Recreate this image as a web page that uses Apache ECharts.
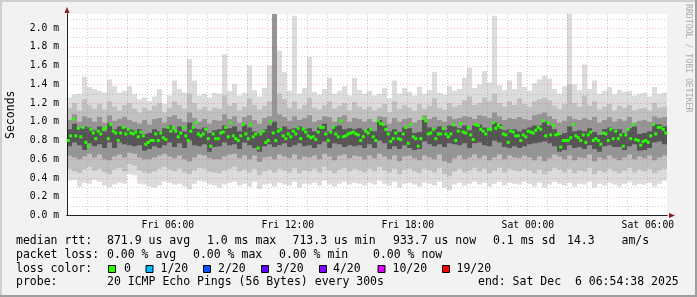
<!DOCTYPE html>
<html><head><meta charset="utf-8">
<script src="https://cdn.jsdelivr.net/npm/echarts@6/dist/echarts.min.js"></script>
<style>
html,body{margin:0;padding:0;background:#f2f2f2;}
#wrap{position:relative;width:697px;height:297px;overflow:hidden;background:#f2f2f2;}
#chart{position:absolute;left:0;top:0;width:697px;height:297px;}
.sh{position:absolute;}
</style></head><body>
<div id="wrap">
<div id="chart"></div>
<div class="sh" style="left:0;top:0;width:697px;height:2px;background:#cfcfcf"></div>
<div class="sh" style="left:0;top:0;width:2px;height:297px;background:#cfcfcf"></div>
<div class="sh" style="left:0;top:295px;width:697px;height:2px;background:#9e9e9e"></div>
<div class="sh" style="left:695px;top:0;width:2px;height:297px;background:#9e9e9e"></div>
</div>
<script>
// ---- time axis (hours since Fri 00:00) ----
const START_HOUR = 0.96;
const SPAN_HOURS = 30;
const SMOKE_STEP = 0.25;   // 15-minute buckets
const MEDIAN_STEP = 0.125; // 7.5-minute buckets

const xTickHours = [6, 12, 18, 24, 30];
const xTickLabels = ['Fri 06:00', 'Fri 12:00', 'Fri 18:00', 'Sat 00:00', 'Sat 06:00'];
const yTickValues = [0, 0.2, 0.4, 0.6, 0.8, 1.0, 1.2, 1.4, 1.6, 1.8, 2.0];

// ---- smoke envelope (ms) ----
const maxV = [
1.26,1.29,1.30,1.48,1.37,1.35,1.33,1.31,1.45,1.38,1.31,1.33,1.38,1.29,1.24,1.26,1.22,1.27,1.35,1.19,1.28,1.44,1.35,1.31,1.67,1.44,1.28,1.30,1.26,1.31,
1.30,1.72,1.33,1.40,1.28,1.31,1.60,1.34,1.27,1.36,1.60,2.15,1.76,1.53,1.33,2.13,1.30,1.36,1.69,1.32,1.29,1.35,1.47,1.30,1.33,1.38,1.28,1.47,1.34,1.30,
1.33,1.28,1.30,1.36,1.25,1.44,1.30,1.36,1.32,1.28,1.37,1.30,1.34,1.53,1.31,1.29,1.38,1.33,1.35,1.47,1.58,1.36,1.40,1.54,1.42,2.13,1.39,1.34,1.44,1.35,
1.53,1.37,1.33,1.41,1.45,1.49,1.46,1.35,1.30,1.38,2.15,1.40,1.34,1.61,1.35,1.44,1.30,1.33,1.37,1.29,1.34,1.32,1.33,1.28,1.30,1.31,1.27,1.37,1.30,1.31];
const minV = [
0.37,0.38,0.31,0.35,0.34,0.38,0.36,0.32,0.30,0.33,0.35,0.34,0.44,0.43,0.34,0.33,0.31,0.30,0.32,0.36,0.35,0.33,0.34,0.31,0.28,0.34,0.37,0.36,0.33,0.32,
0.30,0.33,0.35,0.36,0.32,0.34,0.31,0.36,0.28,0.33,0.34,0.31,0.35,0.33,0.32,0.36,0.30,0.34,0.33,0.35,0.32,0.37,0.33,0.31,0.34,0.36,0.33,0.35,0.34,0.32,
0.35,0.33,0.37,0.34,0.32,0.36,0.30,0.34,0.35,0.33,0.31,0.35,0.34,0.32,0.36,0.30,0.27,0.33,0.35,0.32,0.34,0.36,0.33,0.35,0.31,0.34,0.36,0.32,0.35,0.34,
0.33,0.36,0.34,0.31,0.35,0.30,0.33,0.36,0.34,0.32,0.35,0.31,0.34,0.33,0.36,0.30,0.34,0.32,0.35,0.33,0.31,0.34,0.36,0.32,0.34,0.33,0.35,0.31,0.34,0.37];
const p90 = [
1.15,1.20,1.12,1.24,1.18,1.14,1.19,1.13,1.22,1.16,1.12,1.18,1.20,1.14,1.10,1.15,1.12,1.17,1.20,1.10,1.15,1.22,1.18,1.14,1.30,1.20,1.13,1.16,1.12,1.15,
1.14,1.28,1.17,1.20,1.12,1.16,1.25,1.18,1.13,1.17,1.22,2.15,1.30,1.24,1.15,1.22,1.14,1.18,1.26,1.15,1.13,1.18,1.22,1.14,1.17,1.20,1.12,1.21,1.16,1.13,
1.16,1.12,1.15,1.19,1.10,1.22,1.14,1.18,1.15,1.12,1.19,1.14,1.17,1.25,1.15,1.13,1.20,1.16,1.18,1.23,1.27,1.18,1.20,1.26,1.22,1.30,1.20,1.16,1.22,1.18,
1.25,1.19,1.16,1.22,1.24,1.26,1.23,1.17,1.14,1.19,1.40,1.20,1.16,1.28,1.17,1.22,1.13,1.16,1.19,1.12,1.17,1.15,1.18,1.12,1.14,1.15,1.12,1.20,1.15,1.16];
const p10 = [
0.50,0.47,0.45,0.49,0.52,0.48,0.50,0.46,0.44,0.49,0.51,0.47,0.55,0.53,0.48,0.46,0.45,0.47,0.50,0.52,0.49,0.47,0.50,0.46,0.44,0.48,0.51,0.50,0.47,0.46,
0.45,0.48,0.50,0.52,0.47,0.49,0.46,0.50,0.43,0.47,0.49,0.46,0.50,0.48,0.46,0.51,0.45,0.48,0.47,0.50,0.46,0.52,0.48,0.45,0.49,0.51,0.47,0.50,0.48,0.46,
0.50,0.47,0.52,0.48,0.46,0.50,0.44,0.49,0.50,0.47,0.45,0.50,0.48,0.46,0.51,0.44,0.42,0.47,0.50,0.46,0.48,0.51,0.47,0.50,0.45,0.48,0.51,0.46,0.50,0.48,
0.47,0.50,0.48,0.45,0.49,0.44,0.47,0.51,0.49,0.46,0.50,0.45,0.48,0.47,0.51,0.44,0.48,0.46,0.50,0.47,0.45,0.48,0.51,0.46,0.49,0.47,0.50,0.45,0.48,0.50];
const p75 = [
1.02,1.08,1.00,1.06,1.04,1.00,1.05,0.99,1.07,1.01,1.03,1.05,1.02,1.00,0.98,1.02,0.97,1.03,1.04,0.99,1.05,1.07,1.03,1.00,1.10,1.04,1.00,1.03,0.98,1.02,
1.01,1.08,1.03,1.06,0.99,1.05,1.07,1.02,0.98,1.04,1.06,2.15,1.08,1.05,1.01,1.06,1.02,1.04,1.07,1.00,1.02,1.06,1.05,1.00,1.05,1.07,1.00,1.04,1.03,1.00,
1.03,1.00,1.06,1.05,0.98,1.04,1.00,1.03,1.04,0.99,1.02,1.07,1.03,1.05,1.02,1.00,1.06,1.03,1.04,1.06,1.05,1.03,1.07,1.06,1.04,1.10,1.06,1.02,1.04,1.03,
1.05,1.03,1.02,1.07,1.08,1.10,1.06,1.03,0.99,1.01,1.06,1.03,1.02,1.04,1.02,1.05,0.99,1.02,1.05,1.00,1.03,1.01,1.05,0.99,1.01,1.02,1.00,1.06,1.04,1.05];
const p25 = [
0.64,0.62,0.60,0.63,0.66,0.62,0.65,0.60,0.59,0.63,0.65,0.62,0.67,0.66,0.62,0.60,0.60,0.62,0.64,0.66,0.63,0.61,0.64,0.60,0.58,0.62,0.65,0.64,0.61,0.60,
0.60,0.63,0.65,0.66,0.61,0.64,0.60,0.64,0.57,0.62,0.63,0.60,0.65,0.63,0.61,0.65,0.60,0.63,0.62,0.64,0.60,0.66,0.63,0.59,0.64,0.65,0.61,0.64,0.63,0.60,
0.64,0.61,0.66,0.63,0.60,0.64,0.58,0.63,0.64,0.61,0.59,0.64,0.62,0.60,0.65,0.58,0.56,0.61,0.64,0.60,0.62,0.65,0.61,0.64,0.59,0.62,0.65,0.60,0.64,0.62,
0.61,0.64,0.62,0.59,0.63,0.58,0.61,0.65,0.63,0.60,0.64,0.59,0.62,0.61,0.65,0.58,0.62,0.60,0.64,0.61,0.59,0.62,0.65,0.60,0.63,0.61,0.64,0.59,0.62,0.64];
const p60 = [
0.92,0.98,0.93,0.95,0.94,0.91,0.95,0.90,0.98,0.92,0.95,0.93,0.92,0.91,0.92,0.87,0.88,0.92,0.90,0.93,0.96,0.91,0.95,0.90,0.99,0.93,0.92,0.94,0.88,0.91,
0.92,0.96,0.93,0.95,0.90,0.97,0.94,0.90,0.88,0.92,0.96,1.00,0.93,0.95,0.92,0.93,0.95,0.92,0.93,0.90,0.94,0.98,0.90,0.95,0.96,0.92,0.93,0.92,0.93,0.91,
0.93,0.90,1.02,0.96,0.90,0.92,0.89,0.94,0.93,0.88,0.89,1.02,0.94,0.92,0.95,0.91,0.96,0.95,0.93,0.96,0.91,0.96,0.97,0.94,0.93,0.99,0.97,0.91,0.92,0.92,
0.90,0.92,0.94,0.96,0.96,1.00,0.96,0.92,0.86,0.88,0.95,0.90,0.91,0.90,0.93,0.89,0.86,0.92,0.94,0.92,0.92,0.88,0.93,0.95,0.87,0.88,0.90,0.97,0.97,0.95];
const p40 = [
0.74,0.78,0.75,0.70,0.77,0.74,0.76,0.72,0.78,0.72,0.78,0.76,0.75,0.74,0.75,0.69,0.71,0.74,0.72,0.75,0.78,0.73,0.77,0.72,0.80,0.75,0.74,0.76,0.68,0.73,
0.74,0.78,0.75,0.76,0.71,0.78,0.75,0.72,0.68,0.74,0.76,0.73,0.75,0.77,0.73,0.75,0.77,0.74,0.75,0.72,0.76,0.79,0.72,0.77,0.76,0.73,0.75,0.74,0.75,0.72,
0.76,0.72,0.80,0.77,0.71,0.74,0.71,0.75,0.72,0.70,0.71,0.79,0.76,0.74,0.76,0.73,0.77,0.76,0.75,0.77,0.72,0.77,0.78,0.75,0.74,0.80,0.78,0.73,0.72,0.74,
0.72,0.74,0.76,0.77,0.78,0.79,0.77,0.74,0.68,0.70,0.75,0.72,0.73,0.71,0.75,0.71,0.68,0.74,0.75,0.73,0.73,0.70,0.74,0.76,0.69,0.70,0.72,0.78,0.79,0.76];

// ---- median rtt (ms) ----
const medianMs = [
0.80,0.85,1.03,0.85,0.93,0.84,0.94,0.78,0.74,0.92,0.88,0.82,0.90,0.87,0.92,0.94,0.82,0.97,0.90,0.88,0.80,0.88,0.94,0.87,0.92,0.88,0.87,0.89,0.84,0.89,
0.85,0.76,0.78,0.80,0.80,0.87,0.80,0.88,0.83,0.81,0.94,0.90,0.94,0.90,0.84,0.88,0.94,0.85,0.80,0.90,0.94,0.99,0.87,0.85,0.87,0.92,0.82,0.74,0.87,0.82,
0.82,0.88,0.89,0.94,0.84,0.99,0.85,0.82,0.80,0.85,0.97,0.87,0.82,0.97,0.84,0.87,0.72,0.87,0.90,0.78,0.80,1.00,0.88,0.80,0.90,0.92,0.85,0.82,0.87,0.84,
0.90,0.87,0.93,0.82,0.92,0.89,0.85,0.83,0.84,0.81,0.89,0.94,0.94,0.87,0.80,0.89,0.94,0.87,0.84,1.01,0.84,0.85,0.87,0.88,0.89,0.87,0.86,0.80,0.84,0.90,
0.88,0.92,0.84,0.80,1.01,0.98,0.97,0.92,0.87,0.79,0.82,0.88,0.82,0.81,0.87,0.94,0.77,0.97,0.84,0.82,0.74,0.82,1.04,1.01,0.87,0.88,0.92,0.82,0.87,0.87,
0.93,0.87,0.84,0.87,0.97,0.80,0.90,0.98,0.89,0.88,0.94,0.86,0.81,0.97,0.96,0.92,0.90,0.87,0.92,0.92,0.99,0.93,0.96,0.94,0.87,0.86,0.78,0.90,0.89,0.85,
0.85,0.80,0.86,0.84,0.90,0.89,0.88,0.91,0.94,0.92,1.01,0.85,0.99,0.86,0.96,0.86,0.87,0.73,0.80,0.80,0.80,0.83,0.97,0.85,0.83,0.80,0.86,0.78,0.86,0.89,
0.80,0.82,0.80,0.76,0.88,0.87,0.80,0.92,0.82,0.90,0.82,0.86,0.74,0.86,0.92,0.82,0.97,0.81,0.80,0.75,0.79,0.80,0.78,0.85,0.97,0.87,0.94,0.94,0.92,0.88];

// ---- legend ----
const lossColors = ['#26ff00', '#00b8ff', '#0059ff', '#5e00ff', '#7e00ff', '#dd00ff', '#ff0000'];
const lossLabels = ['0', '1/20', '2/20', '3/20', '4/20', '10/20', '19/20'];

const MONO = '"DejaVu Sans Mono", monospace';
const LEG_FONT = '11.5px ' + MONO;

function smokeSeries(name, lo, hi, color, z) {
  return {
    name, type: 'custom', z, silent: true, clip: true,
    xAxisIndex: 0, yAxisIndex: 0,
    encode: { x: 0, y: [1, 2] },
    data: lo.map((v, i) => [START_HOUR + (i + 0.5) * SMOKE_STEP, v, hi[i]]),
    renderItem: (params, api) => {
      const t = api.value(0);
      const a = api.coord([t, api.value(2)]);
      const b = api.coord([t, api.value(1)]);
      const w = api.size([SMOKE_STEP, 0])[0];
      return { type: 'rect', shape: { x: a[0] - w / 2, y: a[1], width: w, height: b[1] - a[1] },
               style: { fill: color } };
    }
  };
}

const vGrid = [];
for (let h = Math.ceil(START_HOUR + 0.1); h < START_HOUR + SPAN_HOURS; h++) vGrid.push([h, h % 3 === 0 ? 1 : 0]);
const hGrid = [];
for (let k = 1; k <= 21; k++) hGrid.push([k / 10, k % 2 === 0 ? 1 : 0]);
const MINOR = 'rgba(143,143,143,0.45)';
const MAJOR = 'rgba(222,79,79,0.38)';

const graphic = [];
function txt(x, y, s) {
  graphic.push({ type: 'text', x, y, silent: true,
    style: { text: s, font: LEG_FONT, fill: '#000', align: 'left', verticalAlign: 'middle' } });
}
txt(16, 241, 'median rtt:'); txt(107, 241, '871.9 us avg'); txt(207, 241, '1.0 ms max');
txt(292.5, 241, '713.3 us min'); txt(393, 241, '933.7 us now'); txt(493, 241, '0.1 ms sd');
txt(567, 241, '14.3'); txt(621.5, 241, 'am/s');
txt(16, 255, 'packet loss:'); txt(107, 255, '0.00 % avg'); txt(193, 255, '0.00 % max');
txt(279, 255, '0.00 % min'); txt(373, 255, '0.00 % now');
txt(16, 269, 'loss color:');
const boxX = [108, 145.5, 203, 261, 319, 377.5, 442];
const labX = [124, 160.5, 218, 276, 333, 392.5, 456.5];
lossColors.forEach((c, i) => {
  graphic.push({ type: 'rect', silent: true, shape: { x: boxX[i] + 0.5, y: 265.5, width: 7, height: 7 },
    style: { fill: c, stroke: '#000', lineWidth: 1 } });
  txt(labX[i], 269, lossLabels[i]);
});
txt(16, 282.5, 'probe:'); txt(107, 282.5, '20 ICMP Echo Pings (56 Bytes) every 300s');
txt(478, 282.5, 'end: Sat Dec  6 06:54:38 2025');
graphic.push({ type: 'text', x: 688, y: 4, rotation: -Math.PI / 2, silent: true,
  style: { text: 'RRDTOOL / TOBI OETIKER', font: '8.2px ' + MONO, fill: '#ababab', align: 'left', verticalAlign: 'middle' } });

const chart = echarts.init(document.getElementById('chart'), null, { renderer: 'canvas' });
chart.setOption({
  animation: false,
  backgroundColor: 'transparent',
  grid: { left: 67, top: 14, width: 600, height: 201.5, show: true, backgroundColor: '#ffffff', borderWidth: 0,
          containLabel: false, outerBoundsMode: 'none' },
  xAxis: [
    { type: 'value', position: 'bottom', min: START_HOUR, max: START_HOUR + SPAN_HOURS, z: 3,
      axisLine: { show: true, onZero: false, lineStyle: { color: '#1f1f1f', width: 1 } },
      axisTick: { show: false }, splitLine: { show: false },
      axisLabel: { customValues: xTickHours, margin: 5, color: '#000', fontFamily: MONO, fontSize: 9.7,
        formatter: v => { const i = xTickHours.indexOf(Math.round(v)); return i >= 0 ? xTickLabels[i] : ''; } } },
    { type: 'value', position: 'bottom', min: START_HOUR, max: START_HOUR + SPAN_HOURS, z: 1,
      axisLine: { show: true, onZero: false, symbol: ['none', 'triangle'], symbolSize: [5, 6], symbolOffset: [0, 5], lineStyle: { color: '#801f1f', width: 1 } },
      axisTick: { show: false }, splitLine: { show: false }, axisLabel: { show: false } }
  ],
  yAxis: [
    { type: 'value', position: 'left', min: 0, max: 2.15, z: 3,
      name: 'Seconds', nameLocation: 'middle', nameGap: 50, nameRotate: 90,
      nameTextStyle: { fontFamily: MONO, fontSize: 11.5, color: '#000' },
      axisLine: { show: true, onZero: false, lineStyle: { color: '#1f1f1f', width: 1 } },
      axisTick: { show: false }, splitLine: { show: false },
      axisLabel: { customValues: yTickValues, margin: 8, color: '#000', fontFamily: MONO, fontSize: 9.7,
        formatter: v => v.toFixed(1) + ' m' } },
    { type: 'value', position: 'left', min: 0, max: 2.15, z: 1,
      axisLine: { show: true, onZero: false, symbol: ['none', 'triangle'], symbolSize: [5, 6], symbolOffset: [0, 4], lineStyle: { color: '#801f1f', width: 1 } },
      axisTick: { show: false }, splitLine: { show: false }, axisLabel: { show: false } }
  ],
  graphic,
  series: [
    smokeSeries('smoke0', minV, maxV, '#dcdcdc', 2),
    smokeSeries('smoke1', p10, p90, '#c0c0c0', 2),
    smokeSeries('smoke2', p25, p75, '#959595', 2),
    smokeSeries('smoke3', p40, p60, '#555555', 2),
    { name: 'vgrid', type: 'custom', z: 3, silent: true, xAxisIndex: 0, yAxisIndex: 0,
      encode: { x: 0 }, data: vGrid,
      renderItem: (params, api) => {
        const cs = params.coordSys;
        const p = api.coord([api.value(0), 0]);
        const x = Math.floor(p[0]) + 0.5;
        return { type: 'line', shape: { x1: x, y1: cs.y, x2: x, y2: cs.y + cs.height },
          style: { stroke: api.value(1) ? MAJOR : MINOR, lineWidth: 1, lineDash: [1, 2] } };
      } },
    { name: 'hgrid', type: 'custom', z: 3, silent: true, xAxisIndex: 0, yAxisIndex: 0,
      encode: { y: 0 }, data: hGrid,
      renderItem: (params, api) => {
        const cs = params.coordSys;
        const p = api.coord([START_HOUR, api.value(0)]);
        const y = Math.round(p[1]) + 0.5;
        return { type: 'line', shape: { x1: cs.x, y1: y, x2: cs.x + cs.width, y2: y },
          style: { stroke: api.value(1) ? MAJOR : MINOR, lineWidth: 1, lineDash: [1, 2] } };
      } },
    { name: 'median', type: 'scatter', z: 4, silent: true, xAxisIndex: 0, yAxisIndex: 0,
      symbol: 'rect', symbolSize: [3, 3], itemStyle: { color: '#26ff00', opacity: 1 },
      data: medianMs.map((v, k) => [START_HOUR + (k + 0.5) * MEDIAN_STEP, v]) }
  ]
});
</script>
</body></html>
